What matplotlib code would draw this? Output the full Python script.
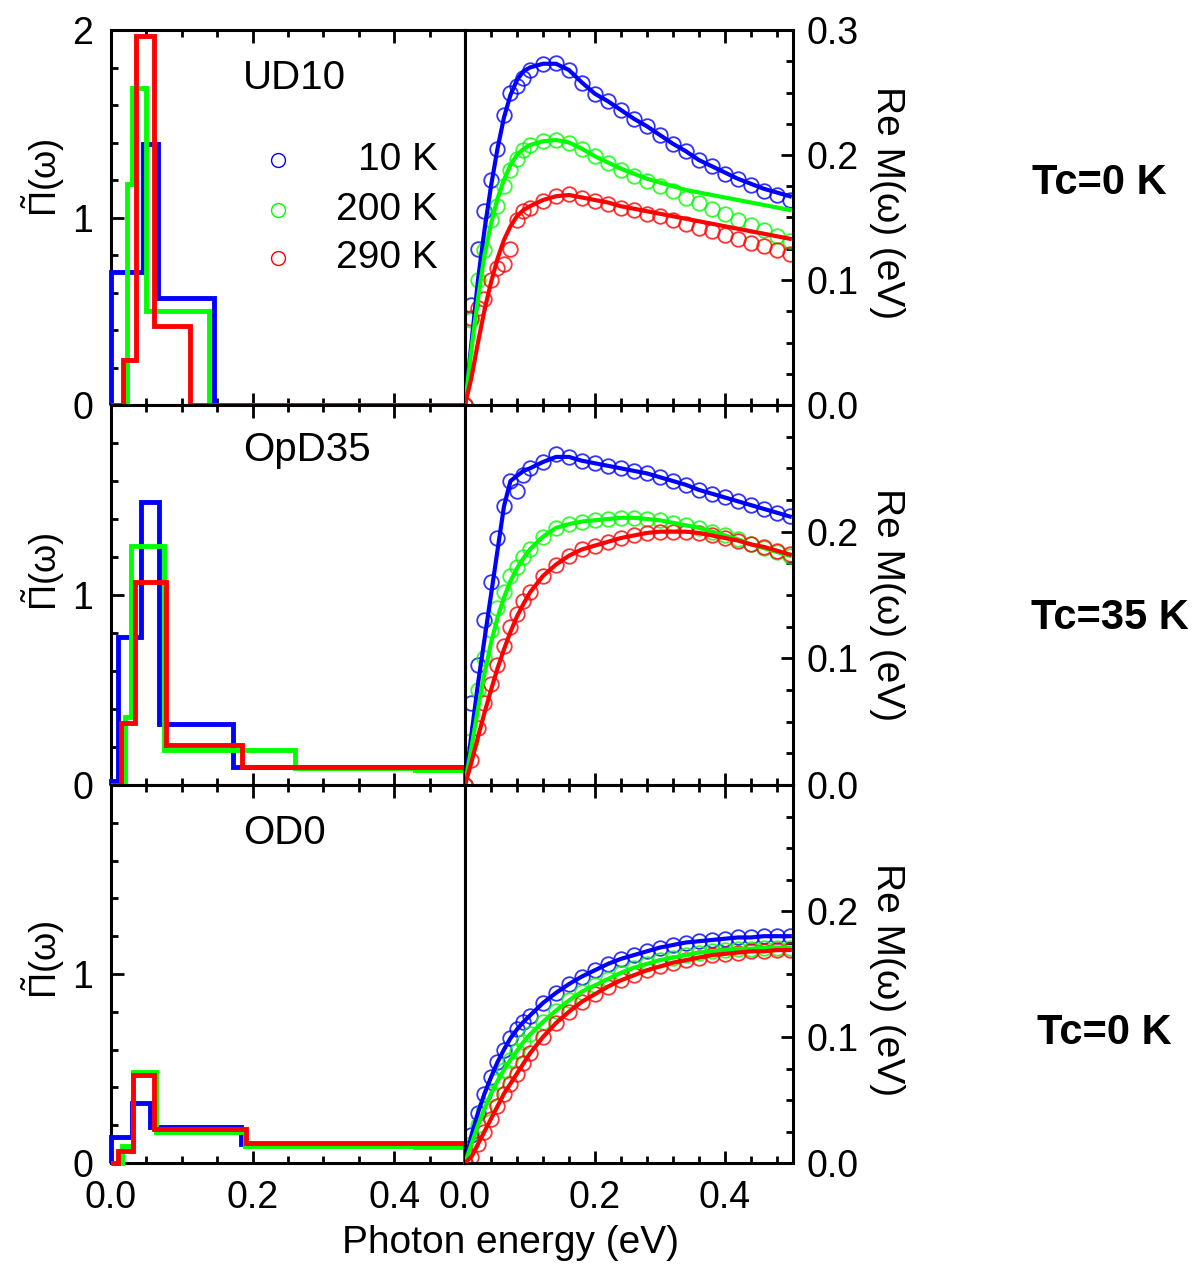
import numpy as np
import matplotlib.pyplot as plt
from matplotlib.ticker import MultipleLocator, FormatStrFormatter

plt.rcParams['font.family'] = ['Liberation Sans', 'DejaVu Sans']
plt.rcParams['mathtext.fontset'] = 'custom'
plt.rcParams['mathtext.rm'] = 'Liberation Sans'
plt.rcParams['mathtext.it'] = 'Liberation Sans'

temps = ['10 K', '200 K', '290 K']
colors = ['#0000ff', '#00ff00', '#ff0000']
samples = ['UD10', 'OpD35', 'OD0']
tc_labels = ['Tc=0 K', 'Tc=35 K', 'Tc=0 K']

# histogram of the bosonic function: bin edges (eV) and heights, per temperature
ud10_edges = [[0, 0.045, 0.067, 0.145, 0.5],
              [0, 0.022, 0.029, 0.049, 0.138, 0.5],
              [0, 0.017, 0.036, 0.061, 0.112, 0.5]]
ud10_pi = [[0.71, 1.39, 0.57, 0.0],
           [0.0, 1.18, 1.69, 0.50, 0.0],
           [0.0, 0.24, 1.97, 0.42, 0.0]]

opd35_edges = [[0, 0.010, 0.043, 0.068, 0.172, 0.5],
               [0, 0.020, 0.028, 0.075, 0.26, 0.43, 0.5],
               [0, 0.0136, 0.034, 0.078, 0.185, 0.5]]
opd35_pi = [[0.02, 0.78, 1.49, 0.32, 0.096],
            [0.0, 0.36, 1.26, 0.184, 0.088, 0.08],
            [0.0, 0.326, 1.07, 0.21, 0.096]]

od0_edges = [[0, 0.029, 0.055, 0.184, 0.5],
             [0, 0.015, 0.031, 0.064, 0.189, 0.43, 0.5],
             [0, 0.010, 0.031, 0.061, 0.191, 0.5]]
od0_pi = [[0.14, 0.32, 0.19, 0.10],
          [0.0, 0.09, 0.48, 0.165, 0.09, 0.083],
          [0.0, 0.065, 0.465, 0.18, 0.104]]

# Re M(w) in eV
energy = [0.00, 0.01, 0.02, 0.03, 0.04, 0.05, 0.06, 0.07, 0.08, 0.09, 0.10,
          0.12, 0.14, 0.16, 0.18, 0.20, 0.22, 0.24, 0.26, 0.28, 0.30,
          0.32, 0.34, 0.36, 0.38, 0.40, 0.42, 0.44, 0.46, 0.48, 0.50]

ud10_rem = [
    [0.0, 0.08, 0.125, 0.155, 0.18, 0.205, 0.232, 0.25, 0.255, 0.262, 0.268,
     0.273, 0.274, 0.268, 0.258, 0.249, 0.243, 0.236, 0.229, 0.223, 0.216,
     0.209, 0.203, 0.196, 0.191, 0.185, 0.181, 0.176, 0.171, 0.168, 0.164],
    [0.0, 0.068, 0.10, 0.124, 0.148, 0.159, 0.175, 0.188, 0.197, 0.204, 0.208,
     0.211, 0.212, 0.210, 0.205, 0.199, 0.194, 0.188, 0.183, 0.179, 0.175,
     0.171, 0.166, 0.162, 0.157, 0.153, 0.148, 0.144, 0.140, 0.135, 0.131],
    [0.0, 0.07, 0.078, 0.085, 0.10, 0.11, 0.113, 0.125, 0.148, 0.155, 0.158,
     0.163, 0.167, 0.169, 0.166, 0.163, 0.161, 0.158, 0.156, 0.153, 0.151,
     0.148, 0.145, 0.142, 0.139, 0.136, 0.133, 0.130, 0.127, 0.124, 0.121]]
ud10_fit = [
    [0.0, 0.05, 0.10, 0.14, 0.175, 0.205, 0.23, 0.248, 0.26, 0.267, 0.27,
     0.273, 0.273, 0.268, 0.258, 0.249, 0.243, 0.236, 0.229, 0.223, 0.216,
     0.209, 0.203, 0.196, 0.191, 0.186, 0.181, 0.177, 0.173, 0.170, 0.167],
    [0.0, 0.045, 0.085, 0.12, 0.145, 0.165, 0.18, 0.192, 0.2, 0.205, 0.208,
     0.211, 0.212, 0.210, 0.205, 0.199, 0.194, 0.189, 0.185, 0.181, 0.178,
     0.175, 0.172, 0.170, 0.168, 0.166, 0.164, 0.162, 0.160, 0.158, 0.156],
    [0.0, 0.022, 0.05, 0.076, 0.098, 0.117, 0.132, 0.143, 0.151, 0.156, 0.159,
     0.164, 0.167, 0.168, 0.166, 0.164, 0.162, 0.159, 0.157, 0.155, 0.153,
     0.151, 0.149, 0.147, 0.145, 0.143, 0.141, 0.139, 0.137, 0.135, 0.133]]

opd35_rem = [
    [0.0, 0.065, 0.095, 0.13, 0.16, 0.195, 0.22, 0.24, 0.232, 0.245, 0.25,
     0.255, 0.261, 0.259, 0.256, 0.254, 0.252, 0.25, 0.248, 0.246, 0.243,
     0.24, 0.237, 0.233, 0.23, 0.227, 0.224, 0.221, 0.218, 0.215, 0.212],
    [0.0, 0.035, 0.075, 0.10, 0.122, 0.14, 0.152, 0.165, 0.172, 0.18, 0.186,
     0.196, 0.203, 0.206, 0.208, 0.209, 0.21, 0.211, 0.211, 0.21, 0.209,
     0.207, 0.205, 0.203, 0.2, 0.197, 0.194, 0.19, 0.187, 0.184, 0.181],
    [0.0, 0.02, 0.045, 0.065, 0.08, 0.095, 0.11, 0.125, 0.135, 0.145, 0.152,
     0.165, 0.174, 0.181, 0.186, 0.189, 0.192, 0.195, 0.197, 0.199, 0.2,
     0.2, 0.2, 0.199, 0.197, 0.195, 0.193, 0.19, 0.188, 0.185, 0.182]]
opd35_fit = [
    [0.0, 0.04, 0.08, 0.115, 0.15, 0.185, 0.22, 0.24, 0.244, 0.248, 0.25,
     0.255, 0.259, 0.259, 0.256, 0.254, 0.252, 0.25, 0.248, 0.246, 0.243,
     0.24, 0.237, 0.233, 0.23, 0.227, 0.224, 0.221, 0.218, 0.215, 0.212],
    [0.0, 0.03, 0.06, 0.088, 0.112, 0.132, 0.148, 0.161, 0.171, 0.179, 0.186,
     0.196, 0.203, 0.206, 0.208, 0.209, 0.21, 0.211, 0.211, 0.21, 0.209,
     0.207, 0.205, 0.203, 0.2, 0.197, 0.194, 0.19, 0.187, 0.184, 0.181],
    [0.0, 0.018, 0.038, 0.057, 0.075, 0.092, 0.107, 0.121, 0.133, 0.143, 0.152,
     0.165, 0.174, 0.181, 0.186, 0.189, 0.192, 0.195, 0.197, 0.199, 0.2,
     0.2, 0.2, 0.199, 0.197, 0.195, 0.193, 0.19, 0.188, 0.185, 0.182]]

od0_rem = [
    [0.0, 0.022, 0.04, 0.055, 0.068, 0.08, 0.09, 0.099, 0.106, 0.112, 0.117,
     0.127, 0.135, 0.142, 0.148, 0.153, 0.158, 0.162, 0.165, 0.168, 0.171,
     0.173, 0.175, 0.176, 0.177, 0.178, 0.179, 0.179, 0.18, 0.18, 0.18],
    [0.0, 0.015, 0.03, 0.043, 0.055, 0.065, 0.074, 0.082, 0.089, 0.096, 0.102,
     0.112, 0.121, 0.129, 0.136, 0.141, 0.146, 0.151, 0.155, 0.158, 0.161,
     0.163, 0.165, 0.167, 0.168, 0.169, 0.17, 0.17, 0.171, 0.171, 0.171],
    [0.0, 0.005, 0.015, 0.025, 0.035, 0.045, 0.055, 0.063, 0.071, 0.079, 0.087,
     0.1, 0.111, 0.12, 0.128, 0.134, 0.14, 0.145, 0.149, 0.153, 0.156,
     0.159, 0.161, 0.163, 0.165, 0.166, 0.167, 0.168, 0.168, 0.169, 0.169]]
od0_fit = od0_rem

pi_edges = [ud10_edges, opd35_edges, od0_edges]
pi_vals = [ud10_pi, opd35_pi, od0_pi]
rem_data = [ud10_rem, opd35_rem, od0_rem]
rem_fit = [ud10_fit, opd35_fit, od0_fit]

W, H = 1196, 1264
fig = plt.figure(figsize=(W / 100, H / 100), dpi=100)

# panel frames in pixels: (top, bottom) per row
rows_px = [(30, 405), (405, 785), (785, 1163)]
left_px = (111, 465)
right_px = (465, 793)
pi_label_y = [0.605, 0.56, 0.537]
rem_label_y = [0.539, 0.474, 0.484]
tc_pos = [(1099, 183), (1110, 618), (1104, 1033)]


def frame(ax):
    for s in ax.spines.values():
        s.set_linewidth(2.2)
    ax.tick_params(which='both', direction='in', width=2.0, labelsize=27)
    ax.tick_params(which='major', length=9)
    ax.tick_params(which='minor', length=5)


for i in range(3):
    top, bot = rows_px[i]
    y0 = 1 - bot / H
    h = (bot - top) / H
    axl = fig.add_axes([left_px[0] / W, y0, (left_px[1] - left_px[0]) / W, h])
    axr = fig.add_axes([right_px[0] / W, y0, (right_px[1] - right_px[0]) / W, h])

    # left: step histograms
    for k in range(3):
        axl.stairs(pi_vals[i][k], pi_edges[i][k], baseline=0, color=colors[k],
                   lw=3.5, zorder=3, clip_on=False)
    axl.set_xlim(0, 0.5)
    axl.set_ylim(0, 2)
    axl.xaxis.set_major_locator(MultipleLocator(0.2))
    axl.xaxis.set_minor_locator(MultipleLocator(0.05))
    axl.xaxis.set_major_formatter(FormatStrFormatter('%.1f'))
    axl.set_yticks([0, 1, 2] if i == 0 else [0, 1])
    axl.yaxis.set_minor_locator(MultipleLocator(0.2))
    axl.tick_params(which='both', top=True, right=False, bottom=True, left=True,
                    labelbottom=(i == 2))
    axl.tick_params(axis='y', pad=13)
    axl.tick_params(axis='x', pad=12)
    frame(axl)
    axl.text(-0.19, pi_label_y[i], r'$\tilde{\Pi}(\omega)$', transform=axl.transAxes,
             rotation=90, ha='center', va='center', fontsize=26)
    axl.text(0.373, [0.872, 0.882, 0.873][i], samples[i], transform=axl.transAxes,
             ha='left', va='center', fontsize=29)

    # right: Re M(w), data circles with fitted curves
    for k in range(3):
        axr.plot(energy, rem_data[i][k], 'o', mfc='none', mec=colors[k],
                 ms=10.5, mew=1.3, alpha=0.8, zorder=2)
    for k in range(3):
        axr.plot(energy, rem_fit[i][k], '-', color=colors[k], lw=3, zorder=3)
    axr.set_xlim(0, 0.505)
    axr.set_ylim(0, 0.3)
    axr.xaxis.set_major_locator(MultipleLocator(0.2))
    axr.xaxis.set_minor_locator(MultipleLocator(0.04))
    axr.xaxis.set_major_formatter(FormatStrFormatter('%.1f'))
    axr.set_yticks([0, 0.1, 0.2, 0.3] if i == 0 else [0, 0.1, 0.2])
    axr.yaxis.set_minor_locator(MultipleLocator(0.025))
    axr.yaxis.set_major_formatter(FormatStrFormatter('%.1f'))
    axr.tick_params(which='both', top=True, right=True, bottom=True, left=False,
                    labelleft=False, labelright=True, labelbottom=(i == 2))
    axr.tick_params(axis='y', pad=10)
    axr.tick_params(axis='x', pad=12)
    frame(axr)
    axr.text(1.287, rem_label_y[i], 'Re M(ω) (eV)', transform=axr.transAxes,
             rotation=270, ha='center', va='center', fontsize=28)

    fig.text(tc_pos[i][0] / W, 1 - tc_pos[i][1] / H, tc_labels[i], ha='center',
             va='center', fontsize=30, fontweight='bold')

    if i == 0:
        # temperature key, labels right-aligned
        for k in range(3):
            yk = [0.653, 0.52, 0.392][k]
            axl.plot([0.472], [yk], 'o', mfc='none', mec=colors[k], ms=10,
                     mew=1.0, transform=axl.transAxes)
            axl.text(0.924, yk, temps[k], transform=axl.transAxes, ha='right',
                     va='center', fontsize=28)

fig.text(510 / W, 1 - 1243 / H, 'Photon energy (eV)', ha='center', va='center',
         fontsize=28)

fig.savefig('out.png', dpi=100)
